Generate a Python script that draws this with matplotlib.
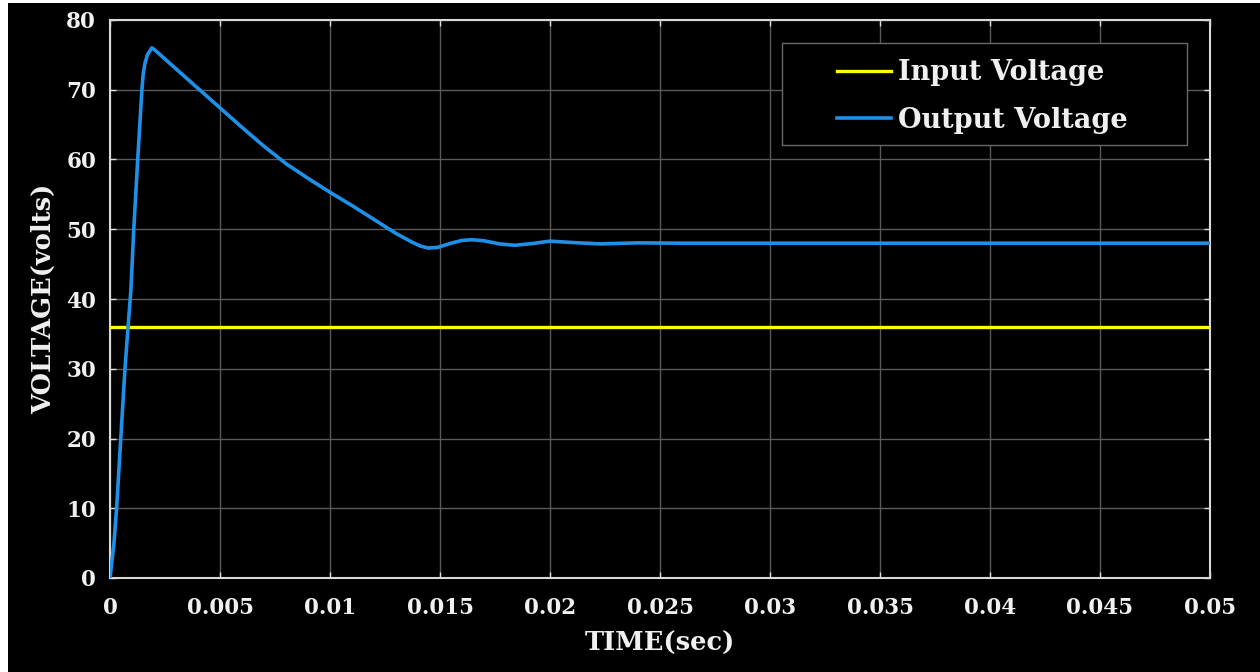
import numpy as np
import matplotlib
matplotlib.use("Agg")
import matplotlib.pyplot as plt
from matplotlib.patches import Rectangle

# output voltage (time in s, volts)
t_out = [0, 0.00018, 0.0003, 0.00049, 0.00068, 0.00082, 0.00095, 0.00108,
         0.00126, 0.00145, 0.00151, 0.00159, 0.0017, 0.0019, 0.002, 0.003, 0.004,
         0.005, 0.006, 0.007, 0.008, 0.009, 0.01, 0.011, 0.012, 0.013,
         0.0137, 0.0141, 0.01447, 0.0149, 0.0155, 0.016, 0.01644, 0.017,
         0.0177, 0.0184, 0.0192, 0.02, 0.021, 0.02227, 0.024, 0.026, 0.05]
v_out = [0, 5, 10, 20, 30, 36, 41.3, 50,
         60, 70, 72.3, 73.8, 75.0, 76.0, 75.8, 73.0, 70.2,
         67.4, 64.6, 61.9, 59.4, 57.3, 55.3, 53.4, 51.4, 49.4,
         48.2, 47.6, 47.3, 47.4, 48.0, 48.4, 48.5, 48.35,
         47.9, 47.7, 47.95, 48.3, 48.1, 47.9, 48.05, 48.0, 48.0]

t_in = [0, 0.05]
v_in = [36, 36]

xticks = [0, 0.005, 0.01, 0.015, 0.02, 0.025, 0.03, 0.035, 0.04, 0.045, 0.05]
xtick_labels = ["0", "0.005", "0.01", "0.015", "0.02", "0.025", "0.03",
                "0.035", "0.04", "0.045", "0.05"]
yticks = [0, 10, 20, 30, 40, 50, 60, 70, 80]

plt.rcParams['font.family'] = ['DejaVu Serif']
plt.rcParams['font.weight'] = 'bold'

fig = plt.figure(figsize=(12.6, 6.72), dpi=100, facecolor='black')
# thin white strips at top and left
fig.patches.append(Rectangle((0, 0), 8/1260, 1, transform=fig.transFigure,
                             facecolor='white', edgecolor='none'))
fig.patches.append(Rectangle((0, 1 - 3/672), 1, 3/672, transform=fig.transFigure,
                             facecolor='white', edgecolor='none'))
ax = fig.add_axes([110/1260, 1 - 578/672, 1100/1260, 558/672])
ax.set_facecolor('black')

ax.plot(t_in, v_in, color='#ffff00', lw=2.4, label='Input Voltage', zorder=3)
ax.plot(t_out, v_out, color='#1e90e8', lw=2.6, label='Output Voltage', zorder=3)

ax.set_xlim(0, 0.05)
ax.set_ylim(0, 80)
ax.set_xticks(xticks)
ax.set_xticklabels(xtick_labels)
ax.set_yticks(yticks)
ax.grid(True, color='#5a5a5a', lw=1)
ax.tick_params(direction='in', length=4, width=1, colors='#dddddd',
               labelcolor='#f0f0f0', labelsize=15.5, top=True, right=True, pad=10)
ax.tick_params(axis='x', pad=14)
for s in ax.spines.values():
    s.set_color('#d8d8d8')
    s.set_linewidth(1.5)

ax.set_xlabel('TIME(sec)', color='#f0f0f0', fontsize=18.5, fontweight='bold', labelpad=8)
ax.set_ylabel('VOLTAGE(volts)', color='#f0f0f0', fontsize=18.5, fontweight='bold', labelpad=7)

# legend box
ax.add_patch(Rectangle((0.6106, 0.776), 0.3682, 0.1833, transform=ax.transAxes,
                       facecolor='black', edgecolor='#6a6a6a', lw=1, zorder=4))
leg = ax.legend(loc='center left', bbox_to_anchor=((837 - 110)/1100, 0.8630),
                frameon=False, fontsize=19.5, handlelength=2.0, handletextpad=0.25,
                borderpad=0, borderaxespad=0, labelspacing=0.75)
leg.set_zorder(5)
for txt in leg.get_texts():
    txt.set_color('#f0f0f0')
    txt.set_fontweight('bold')

fig.savefig('out.png', dpi=100, facecolor=fig.get_facecolor())
